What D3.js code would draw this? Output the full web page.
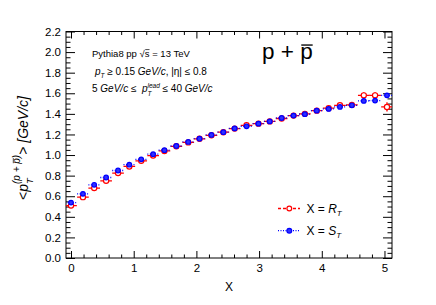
<!DOCTYPE html>
<html>
<head>
<meta charset="utf-8">
<script src="https://cdn.jsdelivr.net/npm/d3@7"></script>
<style>
  body { margin: 0; background: #fff; }
  text { font-family: "Liberation Sans", Arial, sans-serif; fill: #000; white-space: pre; }
</style>
</head>
<body>
<script>
// bin centres of X and <pT> values for the two event classifiers
var xVals = [0.00, 0.19, 0.37, 0.56, 0.75, 0.93, 1.12, 1.31, 1.49, 1.68, 1.87, 2.05, 2.24, 2.43,
             2.61, 2.80, 2.99, 3.17, 3.36, 3.55, 3.73, 3.92, 4.11, 4.29, 4.48, 4.67, 4.85, 5.04];
var binHalf = 0.093;
var rtVals = [0.509, 0.591, 0.679, 0.750, 0.825, 0.889, 0.944, 0.995, 1.040, 1.085, 1.123, 1.158, 1.192, 1.222,
              1.257, 1.289, 1.305, 1.327, 1.355, 1.383, 1.400, 1.431, 1.455, 1.483, 1.487, 1.580, 1.580, 1.467];
var stVals = [0.538, 0.623, 0.711, 0.782, 0.850, 0.906, 0.958, 1.008, 1.047, 1.088, 1.127, 1.159, 1.195, 1.222,
              1.259, 1.279, 1.305, 1.327, 1.360, 1.383, 1.397, 1.431, 1.448, 1.467, 1.483, 1.526, 1.529, 1.580];
var rtErr = [0.004, 0.004, 0.004, 0.004, 0.004, 0.004, 0.004, 0.004, 0.004, 0.004, 0.004, 0.004, 0.004, 0.005,
             0.005, 0.005, 0.005, 0.006, 0.006, 0.007, 0.008, 0.009, 0.010, 0.012, 0.015, 0.030, 0.030, 0.045];
var stErr = [0.003, 0.003, 0.003, 0.003, 0.003, 0.003, 0.003, 0.003, 0.003, 0.003, 0.003, 0.003, 0.003, 0.003,
             0.003, 0.003, 0.004, 0.004, 0.004, 0.004, 0.005, 0.005, 0.006, 0.006, 0.007, 0.008, 0.010, 0.012];
var xMajor = [0, 1, 2, 3, 4, 5];
var yMajor = [0.0, 0.2, 0.4, 0.6, 0.8, 1.0, 1.2, 1.4, 1.6, 1.8, 2.0, 2.2];

var W = 436, H = 305;
var pL = 66, pR = 392, pT = 31.5, pB = 258;

var svg = d3.select("body").append("svg")
    .attr("width", W).attr("height", H);

var x = d3.scaleLinear().domain([-0.08, 5.12]).range([pL, pR]);
var y = d3.scaleLinear().domain([0, 2.2]).range([pB, pT]);

var xMinor = d3.range(0, 5.13, 0.2).filter(function(v) { return Math.abs(v - Math.round(v)) > 0.01; });
var yMinor = d3.range(0, 2.21, 0.05).filter(function(v) { return Math.abs(v * 5 - Math.round(v * 5)) > 0.01; });

function styleAxis(g) {
  g.select(".domain").remove();
  g.selectAll("line").attr("stroke", "#000").attr("stroke-width", 1);
  g.selectAll("text").attr("font-family", "Liberation Sans, Arial, sans-serif").attr("font-size", 11.5);
}

// bottom axis
svg.append("g").attr("transform", "translate(0," + pB + ")")
  .call(d3.axisBottom(x).tickValues(xMajor).tickSize(-7).tickPadding(6).tickFormat(d3.format("d")))
  .call(styleAxis);
svg.append("g").attr("transform", "translate(0," + pB + ")")
  .call(d3.axisBottom(x).tickValues(xMinor).tickSize(-3.5).tickFormat(""))
  .call(styleAxis);
// top axis
svg.append("g").attr("transform", "translate(0," + pT + ")")
  .call(d3.axisTop(x).tickValues(xMajor).tickSize(-7).tickFormat(""))
  .call(styleAxis);
svg.append("g").attr("transform", "translate(0," + pT + ")")
  .call(d3.axisTop(x).tickValues(xMinor).tickSize(-3.5).tickFormat(""))
  .call(styleAxis);
// left axis
svg.append("g").attr("transform", "translate(" + pL + ",0)")
  .call(d3.axisLeft(y).tickValues(yMajor).tickSize(-9).tickPadding(5).tickFormat(d3.format(".1f")))
  .call(styleAxis);
svg.append("g").attr("transform", "translate(" + pL + ",0)")
  .call(d3.axisLeft(y).tickValues(yMinor).tickSize(-4.5).tickFormat(""))
  .call(styleAxis);
// right axis
svg.append("g").attr("transform", "translate(" + pR + ",0)")
  .call(d3.axisRight(y).tickValues(yMajor).tickSize(-9).tickFormat(""))
  .call(styleAxis);
svg.append("g").attr("transform", "translate(" + pR + ",0)")
  .call(d3.axisRight(y).tickValues(yMinor).tickSize(-4.5).tickFormat(""))
  .call(styleAxis);

svg.append("rect")
  .attr("x", pL).attr("y", pT)
  .attr("width", pR - pL).attr("height", pB - pT)
  .attr("fill", "none").attr("stroke", "#000").attr("stroke-width", 1);

svg.append("clipPath").attr("id", "clip")
  .append("rect").attr("x", pL).attr("y", pT)
  .attr("width", pR - pL).attr("height", pB - pT);

var plot = svg.append("g").attr("clip-path", "url(#clip)");

function drawSeries(vals, errs, color, dash, filled) {
  var g = plot.append("g");
  var pts = xVals.map(function(v, i) { return {x: v, y: vals[i], e: errs[i]}; });
  g.selectAll(".h").data(pts).enter().append("line")
    .attr("x1", function(d) { return x(d.x - binHalf); })
    .attr("x2", function(d) { return x(d.x + binHalf); })
    .attr("y1", function(d) { return y(d.y); })
    .attr("y2", function(d) { return y(d.y); })
    .attr("stroke", color).attr("stroke-width", 1.3)
    .attr("stroke-dasharray", dash);
  g.selectAll(".v").data(pts).enter().append("line")
    .attr("x1", function(d) { return x(d.x); })
    .attr("x2", function(d) { return x(d.x); })
    .attr("y1", function(d) { return y(d.y - d.e); })
    .attr("y2", function(d) { return y(d.y + d.e); })
    .attr("stroke", color).attr("stroke-width", 1.3);
  g.selectAll("circle").data(pts).enter().append("circle")
    .attr("cx", function(d) { return x(d.x); })
    .attr("cy", function(d) { return y(d.y); })
    .attr("r", filled ? 2.3 : 2.6)
    .attr("fill", filled ? "#3030ff" : "#fff")
    .attr("stroke", color).attr("stroke-width", 1.2);
}

drawSeries(rtVals, rtErr, "#ff0000", null, false);
drawSeries(stVals, stErr, "#0000ff", "1,1.5", true);

// rich text: pieces laid out one after another, "stack" puts a piece under the previous one
function rich(g, x0, y0, parts, base) {
  var cx = x0, lastStart = x0;
  parts.forEach(function(p) {
    var fs = p.s || base;
    var sx = p.stack ? lastStart : cx;
    var t = g.append("text")
      .attr("x", sx).attr("y", y0 + (p.dy || 0))
      .attr("font-size", fs)
      .style("font-style", p.i ? "italic" : "normal")
      .text(p.t);
    var w = t.node().getComputedTextLength();
    if (p.bar !== undefined) {
      var ext = t.node().getExtentOfChar(p.bar);
      var by = y0 + (p.dy || 0) - fs * (p.barH || 0.62);
      g.append("line")
        .attr("x1", ext.x + fs * 0.05).attr("x2", ext.x + ext.width)
        .attr("y1", by).attr("y2", by)
        .attr("stroke", "#000").attr("stroke-width", Math.max(0.7, fs * 0.06));
    }
    cx = p.stack ? Math.max(cx, sx + w) : sx + w;
    lastStart = sx;
  });
  return cx - x0;
}

// annotations
var ann = svg.append("g");
rich(ann, 92, 57, [{t: "Pythia8 pp "}, {t: "\u221As", bar: 1, barH: 0.78}, {t: " = 13 TeV"}], 9.5);
rich(ann, 95, 75, [{t: "p", i: true}, {t: "T", i: true, s: 6.5, dy: 3}, {t: " \u2265 0.15 "}, {t: "GeV/c", i: true},
                   {t: ", |\u03B7| \u2264 0.8"}], 10);
rich(ann, 92, 92, [{t: "5 "}, {t: "GeV/c", i: true}, {t: " \u2264  "}, {t: "p", i: true},
                   {t: "lead", i: true, s: 6.5, dy: -4}, {t: "T", i: true, s: 6.5, dy: 3.5, stack: true},
                   {t: " \u2264 40 "}, {t: "GeV/c", i: true}], 10);
rich(ann, 262, 59, [{t: "p + p", bar: 4}], 22.5);

// axis titles
svg.append("text").attr("x", (pL + pR) / 2).attr("y", 291)
  .attr("text-anchor", "middle").attr("font-size", 12).text("X");

var yt = svg.append("g").attr("transform", "translate(28,148) rotate(-90)");
var ytIn = yt.append("g");
var tw = rich(ytIn, 0, 0, [{t: "<"}, {t: "p", i: true},
                           {t: "(p + p)", i: true, s: 10, dy: -8.5, bar: 5},
                           {t: "T", i: true, s: 9.5, dy: 5, stack: true},
                           {t: "> "}, {t: "[GeV/c]", i: true}], 14);
ytIn.attr("transform", "translate(" + (-tw / 2) + ",0)");

// legend
var leg = svg.append("g");
var legItems = [
  {label: "R", color: "#ff0000", dash: "3,2", filled: false, ly: 208.5},
  {label: "S", color: "#0000ff", dash: "1,1.5", filled: true, ly: 230.7}
];
legItems.forEach(function(d) {
  leg.append("line").attr("x1", 278).attr("x2", 300).attr("y1", d.ly).attr("y2", d.ly)
    .attr("stroke", d.color).attr("stroke-width", 1.3).attr("stroke-dasharray", d.dash);
  leg.append("circle").attr("cx", 289.3).attr("cy", d.ly).attr("r", 2.4)
    .attr("fill", d.filled ? "#3030ff" : "#fff").attr("stroke", d.color).attr("stroke-width", 1.2);
  rich(leg, 306.5, d.ly + 4.3, [{t: "X = "}, {t: d.label, i: true}, {t: "T", i: true, s: 8, dy: 3}], 12);
});
</script>
</body>
</html>
